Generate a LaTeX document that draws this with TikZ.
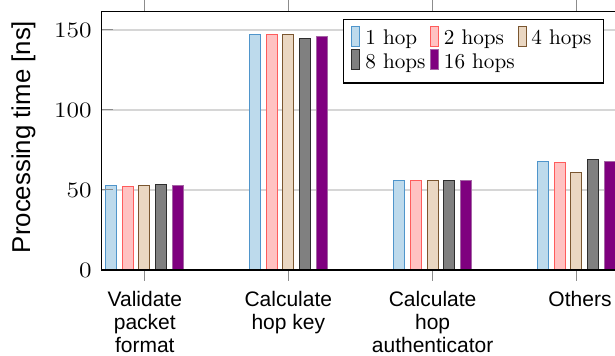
\documentclass[tikz,border=0pt]{standalone}
\usepackage{graphicx}
\usepackage{fontspec}
\newfontfamily\labsans{Liberation Sans}
\definecolor{fa}{HTML}{BDDAEC}
\definecolor{da}{HTML}{4F95CB}
\definecolor{fb}{HTML}{FFC2C2}
\definecolor{db}{HTML}{FF5C5C}
\definecolor{fc}{HTML}{EAD7C2}
\definecolor{dc}{HTML}{7A5630}
\definecolor{fd}{HTML}{808080}
\definecolor{dd}{HTML}{2E2E2E}
\definecolor{fe}{HTML}{7F007F}
\definecolor{de}{HTML}{A565A5}
\definecolor{gridgray}{HTML}{D6D6D6}
\definecolor{tickgray}{HTML}{8C8C8C}
\newcommand{\tk}[1]{\scalebox{1.16}[1]{#1}}
\tikzset{
  barbase/.style={line width=0.5pt},
  sa/.style={barbase, fill=fa, draw=da},
  sb/.style={barbase, fill=fb, draw=db},
  sc/.style={barbase, fill=fc, draw=dc},
  sd/.style={barbase, fill=fd, draw=dd},
  se/.style={barbase, fill=fe, draw=de},
  gridline/.style={draw=gridgray, line width=0.6pt},
  tickmark/.style={draw=tickgray, line width=0.5pt},
  frameline/.style={draw=black, line width=0.6pt},
  ticklabel/.style={anchor=east, inner sep=0pt, font=\fontsize{11}{13}\selectfont},
  catlabel/.style={anchor=north, inner sep=0pt, align=center, font=\labsans\fontsize{10.5}{11.5}\selectfont},
  legtext/.style={anchor=base west, inner sep=0pt, font=\fontsize{10.6}{12}\selectfont},
}
\begin{document}
\begin{tikzpicture}[x=0.5pt, y=-0.5pt]
\useasboundingbox (0,0) rectangle (615,356);
% grid
\foreach \v in {50,100,150} \draw[gridline] (101.7,{270-1.6*\v}) -- (625,{270-1.6*\v});
% bars
\foreach \cx/\v in {144.3/53.1, 288.3/147.3, 432.7/56, 576.3/68.1}
  \draw[sa] ({\cx-33.3-5.5},270) rectangle ({\cx-33.3+5.5},{270-1.6*\v});
\foreach \cx/\v in {144.3/52.3, 288.3/147.3, 432.7/56, 576.3/67}
  \draw[sb] ({\cx-16.7-5.5},270) rectangle ({\cx-16.7+5.5},{270-1.6*\v});
\foreach \cx/\v in {144.3/53.1, 288.3/147.3, 432.7/56, 576.3/61}
  \draw[sc] ({\cx-5.5},270) rectangle ({\cx+5.5},{270-1.6*\v});
\foreach \cx/\v in {144.3/53.3, 288.3/144.8, 432.7/56, 576.3/69.2}
  \draw[sd] ({\cx+16.7-5.5},270) rectangle ({\cx+16.7+5.5},{270-1.6*\v});
\foreach \cx/\v in {144.3/52.5, 288.3/146.2, 432.7/56, 576.3/68.1}
  \draw[se] ({\cx+33.3-5.5},270) rectangle ({\cx+33.3+5.5},{270-1.6*\v});
% y ticks
\foreach \v in {0,50,100,150} \draw[tickmark] (101.7,{270-1.6*\v}) -- (112.7,{270-1.6*\v});
% x ticks
\foreach \cx in {144.3,288.3,432.7,576.3} {
  \draw[tickmark] (\cx,270) -- (\cx,281);
  \draw[tickmark] (\cx,0.5) -- (\cx,11.7);
}
% frame
\draw[frameline] (625,11.7) -- (101.7,11.7) -- (101.7,270) -- (625,270);
% tick labels
\node[ticklabel] (y0) at (92,270) {\tk{0}};
\node[ticklabel] (y50) at (92,190) {\tk{50}};
\node[ticklabel] (y100) at (92,110) {\tk{100}};
\node[ticklabel] (y150) at (92,30) {\tk{150}};
% category labels
\node[catlabel] (c1) at (144.8,291.3) {Validate\\packet\\format};
\node[catlabel] (c2) at (288.3,291.3) {Calculate\\hop key};
\node[catlabel] (c3) at (432.6,291.3) {Calculate\\hop\\authenticator};
\node[catlabel] (c4) at (580,291.3) {Others};
% y label
\node[rotate=90, anchor=base, inner sep=0pt, font=\labsans\fontsize{12.9}{15}\selectfont] (ylab) at (30,137) {Processing time [ns]};
% legend
\draw[fill=white, draw=black, line width=0.6pt] (343.3,19.3) rectangle (603.7,83);
\draw[sa] (351.5,26.5) rectangle (359.5,46.5);
\draw[sb] (430,26.5) rectangle (438,46.5);
\draw[sc] (518,26.5) rectangle (526,46.5);
\draw[sd] (351.5,49.5) rectangle (359.5,70);
\draw[se] (430,49.5) rectangle (438,70);
\node[legtext] (l1) at (365,45) {1 hop};
\node[legtext] (l2) at (443.5,45) {2 hops};
\node[legtext] (l3) at (531,45) {4 hops};
\node[legtext] (l4) at (365,68.3) {8 hops};
\node[legtext] (l5) at (443.5,68.3) {16 hops};
\end{tikzpicture}
\end{document}
